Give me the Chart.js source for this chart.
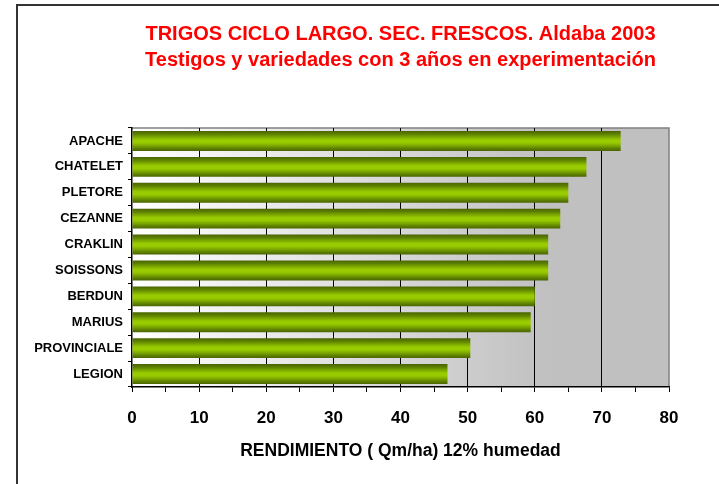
<!DOCTYPE html>
<html>
<head>
<meta charset="utf-8">
<script src="https://cdn.jsdelivr.net/npm/chart.js@4/dist/chart.umd.min.js"></script>
<style>
  body { margin: 0; background: #fff; }
  canvas { display: block; }
</style>
</head>
<body>
<canvas id="chart" width="719" height="484"></canvas>
<script>
const variedades = ['APACHE', 'CHATELET', 'PLETORE', 'CEZANNE', 'CRAKLIN', 'SOISSONS', 'BERDUN', 'MARIUS', 'PROVINCIALE', 'LEGION'];
const rendimiento = [72.8, 67.7, 65.0, 63.8, 62.0, 62.0, 60.0, 59.4, 50.4, 47.0];
const tituloLineas = ['TRIGOS CICLO LARGO. SEC. FRESCOS. Aldaba 2003', 'Testigos y variedades con 3 años en experimentación'];
const ejeTitulo = 'RENDIMIENTO ( Qm/ha) 12% humedad';

const FONT = 'Arial, "Liberation Sans", sans-serif';
const CAT_PCT = 0.77;

// green "cylinder" look on each bar
function barGradient(ctx) {
    const chart = ctx.chart;
    const y = chart.scales.y;
    if (!chart.chartArea || !y || ctx.dataIndex === undefined) return '#8fc000';
    const mid = y.getPixelForValue(ctx.dataIndex);
    const half = (chart.chartArea.bottom - chart.chartArea.top) / variedades.length * CAT_PCT / 2;
    const g = chart.ctx.createLinearGradient(0, mid - half, 0, mid + half);
    g.addColorStop(0, '#4a6400');
    g.addColorStop(0.15, '#5c7f00');
    g.addColorStop(0.32, '#7fab00');
    g.addColorStop(0.45, '#99cc00');
    g.addColorStop(0.58, '#99cc00');
    g.addColorStop(0.72, '#7fab00');
    g.addColorStop(0.88, '#5c7f00');
    g.addColorStop(1, '#4a6400');
    return g;
}

const fondo = {
    id: 'fondo',
    beforeDraw(chart) {
        const {ctx, chartArea: a} = chart;
        ctx.save();
        // outer frame of the sheet
        ctx.strokeStyle = '#333';
        ctx.lineWidth = 2;
        ctx.beginPath();
        ctx.moveTo(17, 484);
        ctx.lineTo(17, 5);
        ctx.lineTo(719, 5);
        ctx.stroke();
        // plot area gradient
        const g = ctx.createLinearGradient(a.left, 0, a.right, 0);
        g.addColorStop(0, '#ffffff');
        g.addColorStop(0.78, '#c0c0c0');
        g.addColorStop(1, '#c0c0c0');
        ctx.fillStyle = g;
        ctx.fillRect(a.left, a.top, a.right - a.left, a.bottom - a.top);
        ctx.strokeStyle = '#808080';
        ctx.lineWidth = 1.5;
        ctx.beginPath();
        ctx.moveTo(a.left, a.top);
        ctx.lineTo(a.right, a.top);
        ctx.lineTo(a.right, a.bottom);
        ctx.stroke();
        // title
        ctx.fillStyle = '#ff0000';
        ctx.font = 'bold 20px ' + FONT;
        ctx.textAlign = 'center';
        ctx.textBaseline = 'middle';
        const cx = (a.left + a.right) / 2;
        ctx.fillText(tituloLineas[0], cx, 34);
        ctx.fillText(tituloLineas[1], cx, 60);
        ctx.restore();
    }
};

new Chart(document.getElementById('chart'), {
    type: 'bar',
    data: {
        labels: variedades,
        datasets: [{
            data: rendimiento,
            backgroundColor: barGradient,
            borderWidth: 0,
            categoryPercentage: CAT_PCT,
            barPercentage: 1
        }]
    },
    options: {
        indexAxis: 'y',
        responsive: false,
        animation: false,
        layout: { padding: { top: 128, left: 17, right: 50, bottom: 0 } },
        plugins: { legend: { display: false }, tooltip: { enabled: false } },
        scales: {
            x: {
                min: 0, max: 80,
                afterFit: s => { s.height = 97; },
                ticks: {
                    stepSize: 5,
                    color: '#000',
                    padding: 16,
                    font: { family: FONT, size: 17, weight: 'bold' },
                    callback: v => v % 10 === 0 ? v : ''
                },
                grid: {
                    color: c => (c.tick && c.tick.value % 10 === 0 && c.tick.value > 0 && c.tick.value < 80) ? '#000' : 'rgba(0,0,0,0)',
                    tickColor: '#000',
                    tickLength: 5,
                    lineWidth: 1
                },
                border: { color: '#000', width: 1.5 },
                title: {
                    display: true,
                    text: ejeTitulo,
                    color: '#000',
                    font: { family: FONT, size: 17.5, weight: 'bold' },
                    padding: { top: 0, bottom: 22 }
                }
            },
            y: {
                afterFit: s => { s.width = 132 - 17; },
                ticks: {
                    color: '#000',
                    padding: 5,
                    font: { family: FONT, size: 13, weight: 'bold' }
                },
                grid: {
                    drawOnChartArea: false,
                    color: '#000',
                    tickLength: 4
                },
                border: { color: '#000', width: 1.5 }
            }
        }
    },
    plugins: [fondo]
});
</script>
</body>
</html>
